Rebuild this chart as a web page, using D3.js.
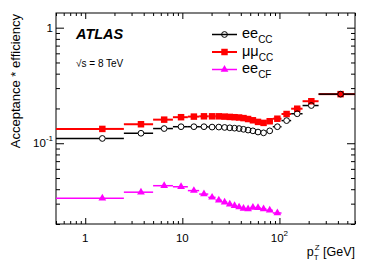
<!DOCTYPE html>
<html>
<head>
<meta charset="utf-8">
<script src="https://cdn.jsdelivr.net/npm/d3@7"></script>
<style>
  body { margin: 0; background: #fff; }
  svg { display: block; font-family: "Liberation Sans", Arial, sans-serif; }
</style>
</head>
<body>
<svg id="chart" width="374" height="268"></svg>
<script>
// pT^Z bins (GeV) and where the markers sit
const binEdges = [0, 2.5, 5, 8, 11.4, 14.9, 18.5, 22, 25.5, 29, 32.6, 36.4, 40.4, 44.9, 50.2, 56.4, 63.9, 73.4, 85.4, 105, 132, 173, 253, 600];
const binCenters = [1.5, 3.75, 6.5, 9.7, 13.15, 16.7, 20.25, 23.75, 27.25, 30.8, 34.5, 38.4, 42.65, 47.55, 53.3, 60.15, 68.65, 79.4, 95.2, 118.5, 152.5, 213, 426.5];

// acceptance * efficiency per channel
const eeCC = [0.110, 0.122, 0.134, 0.139, 0.139, 0.139, 0.138, 0.138, 0.137, 0.136, 0.135, 0.134, 0.132, 0.130, 0.128, 0.125, 0.123, 0.128, 0.139, 0.157, 0.180, 0.212, 0.266];
const mumuCC = [0.133, 0.146, 0.160, 0.168, 0.170, 0.171, 0.171, 0.171, 0.170, 0.169, 0.168, 0.167, 0.165, 0.162, 0.158, 0.153, 0.150, 0.155, 0.163, 0.179, 0.199, 0.231, 0.266];
const eeCF = [0.0334, 0.0377, 0.0429, 0.0420, 0.0389, 0.0363, 0.0340, 0.0321, 0.0309, 0.0297, 0.0288, 0.0280, 0.0272, 0.0270, 0.0278, 0.0277, 0.0270, 0.0263, 0.0249];

// tick labels (base + exponent)
const xTickValues = [1, 10, 100];
const xTickLabels = [["1", ""], ["10", ""], ["10", "2"]];
const yTickValues = [1, 0.1];
const yTickLabels = [["1", ""], ["10", "-1"]];

const svg = d3.select("#chart");
const plotL = 56, plotR = 355, plotT = 13, plotB = 224;

const x = d3.scaleLog().domain([0.5, 600]).range([plotL, plotR]);
const y = d3.scaleLog().domain([0.02, 1.34]).range([plotB, plotT]);

// minor tick positions for the log axes
const xMinor = [];
[0.1, 1, 10, 100].forEach(d => { for (let i = 2; i <= 9; i++) { const v = d * i; if (v >= 0.5 && v <= 600) xMinor.push(v); } });
const yMinor = [];
[0.01, 0.1].forEach(d => { for (let i = 2; i <= 9; i++) yMinor.push(d * i); });

// ticks on all four sides, pointing inwards (ROOT style)
function addAxis(axisFn, values, size, transform) {
  const g = svg.append("g").attr("transform", transform)
    .call(axisFn.tickValues(values).tickSize(-size).tickFormat(""));
  g.select(".domain").remove();
  g.selectAll("line").attr("stroke", "#000").attr("stroke-width", 1);
}
addAxis(d3.axisBottom(x), xMinor, 3, `translate(0,${plotB})`);
addAxis(d3.axisBottom(x), xTickValues, 6, `translate(0,${plotB})`);
addAxis(d3.axisTop(x), xMinor, 3, `translate(0,${plotT})`);
addAxis(d3.axisTop(x), xTickValues, 6, `translate(0,${plotT})`);
addAxis(d3.axisLeft(y), yMinor, 4, `translate(${plotL},0)`);
addAxis(d3.axisLeft(y), yTickValues, 8, `translate(${plotL},0)`);
addAxis(d3.axisRight(y), yMinor, 4, `translate(${plotR},0)`);
addAxis(d3.axisRight(y), yTickValues, 8, `translate(${plotR},0)`);

svg.append("rect")
  .attr("x", plotL).attr("y", plotT)
  .attr("width", plotR - plotL).attr("height", plotB - plotT)
  .attr("fill", "none").attr("stroke", "#000").attr("stroke-width", 1);

// tick labels
xTickValues.forEach((v, i) => {
  const t = svg.append("text")
    .attr("x", x(v)).attr("y", 242)
    .attr("text-anchor", "middle")
    .attr("font-size", 11.5);
  t.append("tspan").text(xTickLabels[i][0]);
  if (xTickLabels[i][1]) t.append("tspan").attr("dy", -6).attr("font-size", 8).text(xTickLabels[i][1]);
});
yTickValues.forEach((v, i) => {
  const t = svg.append("text")
    .attr("x", 53).attr("y", y(v) + 4)
    .attr("text-anchor", "end")
    .attr("font-size", 11.5);
  t.append("tspan").text(yTickLabels[i][0]);
  if (yTickLabels[i][1]) t.append("tspan").attr("dy", -6).attr("font-size", 8).text(yTickLabels[i][1]);
});

// axis titles
svg.append("text")
  .attr("transform", "translate(20,14) rotate(-90)")
  .attr("text-anchor", "end")
  .attr("font-size", 13)
  .text("Acceptance * efficiency");

const xt = svg.append("text")
  .attr("x", 355).attr("y", 256)
  .attr("text-anchor", "end")
  .attr("font-size", 12.5);
xt.append("tspan").text("p");
xt.append("tspan").attr("font-size", 8).attr("dy", 4).text("T");
xt.append("tspan").attr("font-size", 8).attr("dx", -4).attr("dy", -10).text("Z");
xt.append("tspan").attr("dy", 6).text(" [GeV]");

// ATLAS labels
svg.append("text")
  .attr("x", 76).attr("y", 39)
  .attr("font-size", 14.5).attr("font-weight", "bold").attr("font-style", "italic")
  .text("ATLAS");
svg.append("text")
  .attr("x", 76).attr("y", 66.5)
  .attr("font-size", 10)
  .text("\u221As = 8 TeV");

svg.append("clipPath").attr("id", "plotClip")
  .append("rect").attr("x", plotL).attr("y", plotT).attr("width", plotR - plotL).attr("height", plotB - plotT);

// draw a series: horizontal bin-width bars (broken around the marker, like ROOT) and markers
function drawSeries(values, color, width, marker, gap) {
  const g = svg.append("g").attr("clip-path", "url(#plotClip)");
  const rows = values.map((v, i) => ({ v, lo: Math.max(binEdges[i], 0.5), hi: binEdges[i + 1], c: binCenters[i] }));
  const segs = [];
  rows.forEach(d => {
    segs.push({ x1: x(d.lo), x2: x(d.c) - gap, yy: y(d.v) });
    segs.push({ x1: x(d.c) + gap, x2: x(d.hi), yy: y(d.v) });
  });
  g.selectAll("line.bar").data(segs.filter(s => s.x2 > s.x1)).enter().append("line")
    .attr("class", "bar")
    .attr("x1", d => d.x1).attr("x2", d => d.x2)
    .attr("y1", d => d.yy).attr("y2", d => d.yy)
    .attr("stroke", color).attr("stroke-width", width);
  const m = g.selectAll("path.mk").data(rows).enter().append("path")
    .attr("class", "mk")
    .attr("transform", d => `translate(${x(d.c)},${y(d.v)})`);
  marker(m);
}

const square = sel => sel.attr("d", d3.symbol(d3.symbolSquare, 42)).attr("fill", "#ff0000");
const circle = sel => sel.attr("d", d3.symbol(d3.symbolCircle, 26)).attr("fill", "none").attr("stroke", "#000").attr("stroke-width", 1);
const triangle = sel => sel.attr("d", d3.symbol(d3.symbolTriangle, 26)).attr("fill", "#ff00ff");

drawSeries(mumuCC, "#ff0000", 2, square, 0);
drawSeries(eeCC, "#000", 1.5, circle, 3);
drawSeries(eeCF, "#ff00ff", 1.5, triangle, 0);

// legend
const legendNames = [["ee", "CC"], ["\u03BC\u03BC", "CC"], ["ee", "CF"]];
const legendColors = ["#000", "#ff0000", "#ff00ff"];
const legendWidths = [1.5, 2, 1.5];
const legendMarkers = [circle, square, triangle];
legendNames.forEach((n, i) => {
  const ly = 34.5 + i * 17.5;
  svg.append("line")
    .attr("x1", 212).attr("x2", 237).attr("y1", ly).attr("y2", ly)
    .attr("stroke", legendColors[i]).attr("stroke-width", legendWidths[i]);
  legendMarkers[i](svg.append("path").attr("transform", `translate(224.5,${ly})`));
  const t = svg.append("text")
    .attr("x", 242).attr("y", ly + 3.5)
    .attr("font-size", 14.5);
  t.append("tspan").text(n[0]);
  t.append("tspan").attr("font-size", 10).attr("dy", 5).text(n[1]);
});
</script>
</body>
</html>
